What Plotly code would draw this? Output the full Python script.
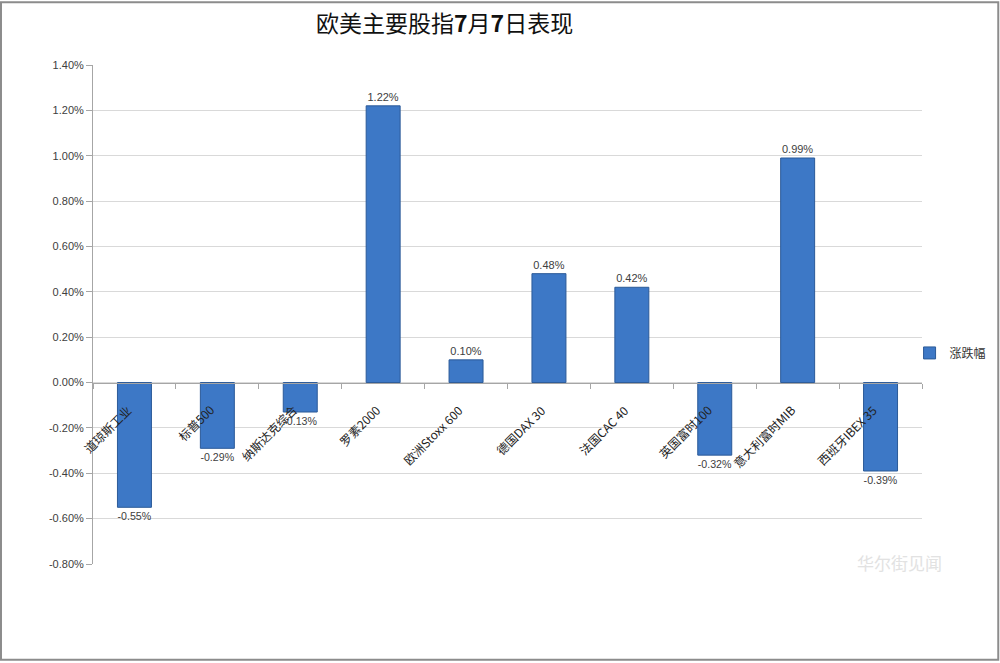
import plotly.graph_objects as go

categories = ["道琼斯工业", "标普500", "纳斯达克综合", "罗素2000", "欧洲Stoxx 600",
              "德国DAX 30", "法国CAC 40", "英国富时100", "意大利富时MIB", "西班牙IBEX 35"]
values = [-0.55, -0.29, -0.13, 1.22, 0.10, 0.48, 0.42, -0.32, 0.99, -0.39]
y_ticks = [-0.8, -0.6, -0.4, -0.2, 0.0, 0.2, 0.4, 0.6, 0.8, 1.0, 1.2, 1.4]
title_text = "欧美主要股指<b>7</b>月<b>7</b>日表现"
series_name = "涨跌幅"

ymin, ymax = -0.8, 1.4
labels = [f"{v:.2f}%" for v in values]

fig = go.Figure()
fig.add_trace(go.Bar(
    x=categories, y=values, name=series_name,
    marker=dict(color="#3d78c6", line=dict(color="#2b5a98", width=1)),
    text=labels, textposition="outside",
    textfont=dict(family="Liberation Sans", size=11, color="#404040"),
    cliponaxis=False,
    showlegend=True,
))

# category labels drawn at the zero line, rotated
for c in categories:
    fig.add_annotation(x=c, y=0, xref="x", yref="y", text=c, showarrow=False,
                       textangle=-45, xanchor="right", yanchor="top",
                       xshift=3, yshift=-16,
                       font=dict(family="Noto Sans CJK SC", size=12, color="#222222"))

fig.add_annotation(x=0.4246, y=1.086, xref="paper", yref="paper", text=title_text,
                   showarrow=False, xanchor="center", yanchor="middle",
                   font=dict(family="Noto Sans CJK SC", size=23, color="#111111"))

fig.add_annotation(x=0.973, y=0.004, xref="paper", yref="paper", text="华尔街见闻",
                   showarrow=False, xanchor="center", yanchor="middle",
                   font=dict(family="Noto Sans CJK SC", size=17, color="#e2e2e2"))

zero_pos = (0 - ymin) / (ymax - ymin)

fig.update_layout(
    width=1000, height=663,
    margin=dict(l=93, r=78, t=65, b=99, autoexpand=False),
    paper_bgcolor="white", plot_bgcolor="white",
    bargap=0.59,
    legend=dict(x=0.985, y=0.423, xanchor="left", yanchor="middle",
                font=dict(family="Noto Sans CJK SC", size=12, color="#333333"),
                itemwidth=30, tracegroupgap=0, bgcolor="rgba(0,0,0,0)"),
    xaxis=dict(range=[-0.5, len(categories) - 0.5], autorange=False,
               showticklabels=False, showgrid=False, showline=True, linecolor="#a6a6a6",
               ticks="outside", ticklen=5, tickcolor="#a6a6a6", tickson="boundaries",
               anchor="free", position=zero_pos, zeroline=False),
    yaxis=dict(range=[ymin, ymax], autorange=False, tickvals=y_ticks,
               ticktext=[f"{t:.2f}%" for t in y_ticks],
               showgrid=True, gridcolor="#d9d9d9", gridwidth=1,
               zeroline=False, showline=True, linecolor="#a6a6a6",
               ticks="outside", ticklen=6, tickcolor="#a6a6a6",
               tickfont=dict(family="Liberation Sans", size=11, color="#404040")),
    shapes=[dict(type="rect", xref="paper", yref="paper", x0=-0.111, x1=1.092,
                 y0=-0.192, y1=1.126, line=dict(color="#8c8c8c", width=2))],
)

fig.write_html("out.html", config={"displayModeBar": False},
               post_script="document.body.style.margin='0';")
